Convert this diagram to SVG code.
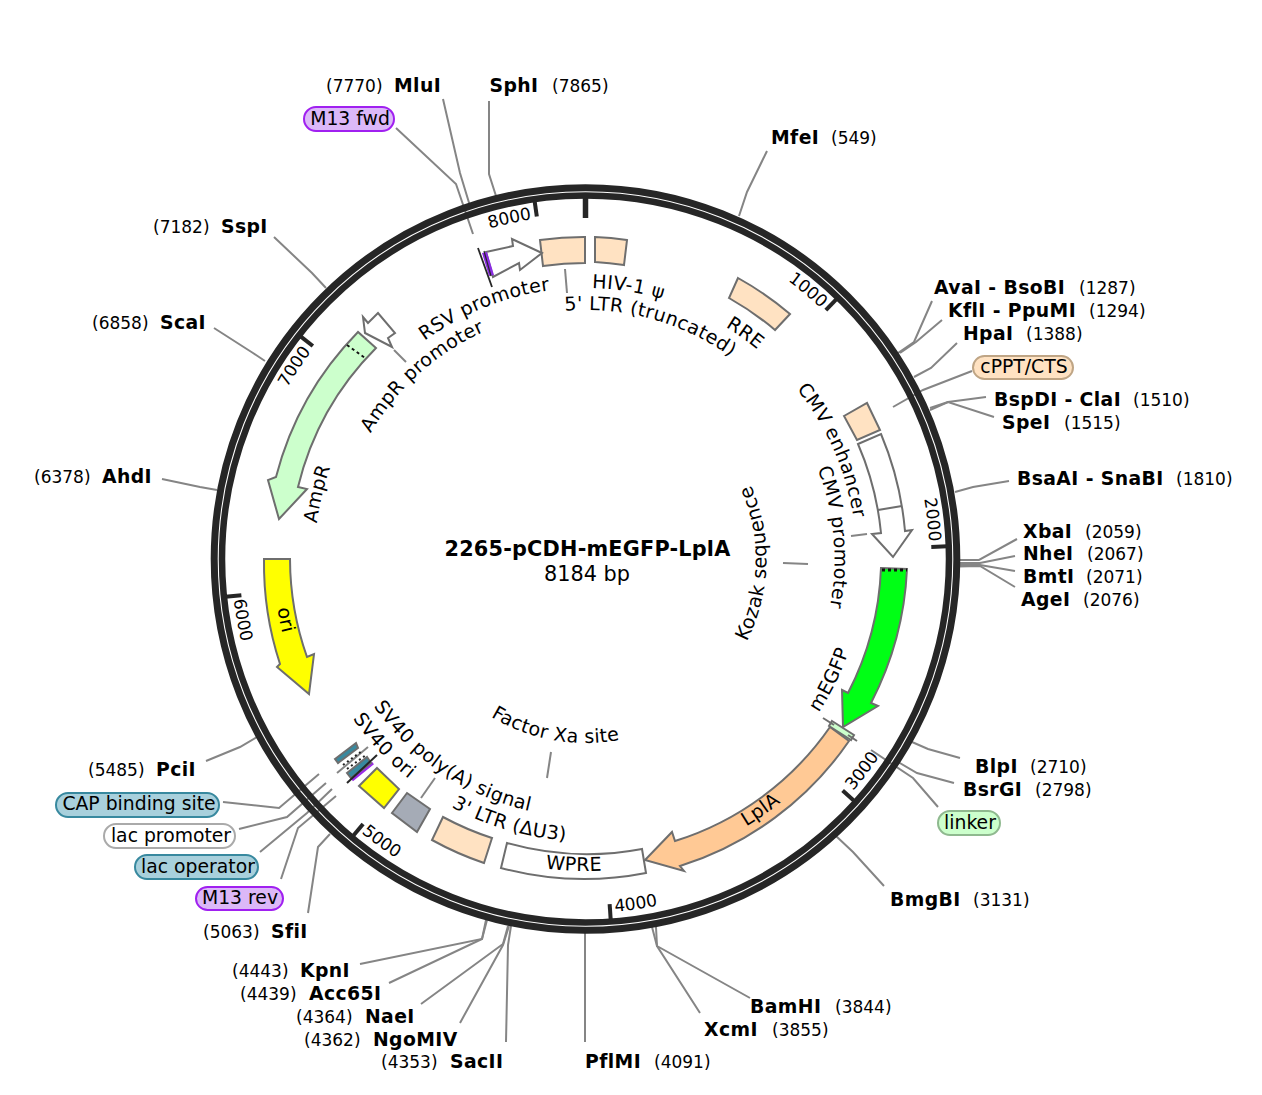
<svg xmlns="http://www.w3.org/2000/svg" width="1262" height="1095" viewBox="0 0 1262 1095">
<style>
text{font-family:"DejaVu Sans",sans-serif;fill:#000}
.e{font-weight:bold;font-size:18.8px;letter-spacing:.4px}
.n{font-size:17px}
.f{font-size:19px;text-anchor:middle;letter-spacing:.35px}
.t{font-size:17px;text-anchor:middle}
.p{font-size:18.8px;text-anchor:middle}
.l{fill:none;stroke:#858585;stroke-width:2}
.b{stroke:#6e6e6e;stroke-width:2;stroke-linejoin:miter}
.r{fill:none;stroke:#262626}
.k{stroke:#262626;stroke-width:4}
.z{stroke:#262626;stroke-width:5.500}
.ltr{fill:#ffe2c2}
</style>
<defs>
<path id="c249" d="M585.5,808A249,249 0 1 1 585.5,310A249,249 0 1 1 585.5,808"/>
<path id="c271" d="M585.5,830A271,271 0 1 1 585.5,288A271,271 0 1 1 585.5,830"/>
<path id="c344" d="M585.5,903A344,344 0 1 1 585.5,215A344,344 0 1 1 585.5,903"/>
<path id="a181" d="M585.5,378A181,181 0 1 0 585.5,740A181,181 0 1 0 585.5,378"/>
<path id="a184" d="M585.5,375A184,184 0 1 0 585.5,743A184,184 0 1 0 585.5,375"/>
<path id="a258" d="M585.5,301A258,258 0 1 0 585.5,817A258,258 0 1 0 585.5,301"/>
<path id="a279" d="M585.5,280A279,279 0 1 0 585.5,838A279,279 0 1 0 585.5,280"/>
<path id="a282" d="M585.5,277A282,282 0 1 0 585.5,841A282,282 0 1 0 585.5,277"/>
<path id="a312" d="M585.5,247A312,312 0 1 0 585.5,871A312,312 0 1 0 585.5,247"/>
<path id="a354" d="M585.5,205A354,354 0 1 0 585.5,913A354,354 0 1 0 585.5,205"/>
</defs>

<g id="connectors">
<polyline class="l" points="443,99 460,173 470,206"/>
<polyline class="l" points="396,128 456,184 473,234"/>
<polyline class="l" points="489,101 489,174 496,196"/>
<polyline class="l" points="767,151 747,192 739,216"/>
<polyline class="l" points="932,301 914,342 898,353"/>
<polyline class="l" points="942,320 916,342 900,353"/>
<polyline class="l" points="957,343 931,368 914,377"/>
<polyline class="l" points="972,371 923,390 893,407"/>
<polyline class="l" points="986,397 948,402 930,408"/>
<polyline class="l" points="994,417 948,402 930,410"/>
<polyline class="l" points="1009,481 973,487 955,492"/>
<polyline class="l" points="1017,539 979,560 958,560"/>
<polyline class="l" points="1015,556 980,563 958,563"/>
<polyline class="l" points="1015,571 980,565 958,565"/>
<polyline class="l" points="1015,587 980,566 958,566.500"/>
<polyline class="l" points="960,758 928,749 912,742"/>
<polyline class="l" points="954,783 917,773 898,762"/>
<polyline class="l" points="938,807 913,778 871,750"/>
<polyline class="l" points="884,886 853,852 836,836"/>
<polyline class="l" points="750,998 657,946 656,927"/>
<polyline class="l" points="700,1013 657,946 652,927"/>
<polyline class="l" points="585,1042 585,952 585,932"/>
<polyline class="l" points="506,1042 508,945 511,926"/>
<polyline class="l" points="460,1023 503,945 509,926"/>
<polyline class="l" points="421,1004 503,944 508,926"/>
<polyline class="l" points="389,983 482,939 487,920"/>
<polyline class="l" points="360,964 482,939 486,920"/>
<polyline class="l" points="308,913 318,847 330,834"/>
<polyline class="l" points="281,879 298,828 336,796"/>
<polyline class="l" points="260,852 307,813 332,789"/>
<polyline class="l" points="239,829 287,817 326,783"/>
<polyline class="l" points="223,802 279,808 319,774"/>
<polyline class="l" points="206,761 240,747 257,737"/>
<polyline class="l" points="162,479 200,487 217,490"/>
<polyline class="l" points="214,328 253,353 265,361"/>
<polyline class="l" points="274,237 312,273 326,288"/>
<polyline class="l" points="565,269 567,293"/>
<polyline class="l" points="394,350 406,362"/>
<polyline class="l" points="851,536 867,534"/>
<polyline class="l" points="783,563 808,564"/>
<polyline class="l" points="547,778 551,752"/>
<polyline class="l" points="435,778 421,798"/>
</g>

<g id="backbone">
<circle class="r" cx="585.5" cy="559" r="371.300" stroke-width="7"/>
<circle class="r" cx="585.500" cy="559" r="363.500" stroke-width="6.500"/>
<line class="z" x1="585.500" y1="197" x2="585.500" y2="218"/>
<g id="ticks">
<line class="k" x1="585.5" y1="197" x2="585.5" y2="213" transform="rotate(-8.09 585.5 559)"/>
<line class="k" x1="585.5" y1="197" x2="585.5" y2="213" transform="rotate(44 585.5 559)"/>
<line class="k" x1="585.5" y1="197" x2="585.5" y2="213" transform="rotate(88 585.5 559)"/>
<line class="k" x1="585.5" y1="197" x2="585.5" y2="213" transform="rotate(132 585.5 559)"/>
<line class="k" x1="585.5" y1="197" x2="585.5" y2="213" transform="rotate(176 585.5 559)"/>
<line class="k" x1="585.5" y1="197" x2="585.5" y2="213" transform="rotate(220 585.5 559)"/>
<line class="k" x1="585.5" y1="197" x2="585.5" y2="213" transform="rotate(264 585.5 559)"/>
<line class="k" x1="585.5" y1="197" x2="585.5" y2="213" transform="rotate(308 585.5 559)"/>
</g>
<text class="t"><textPath href="#c344" startOffset="46.5%">8000</textPath></text>
<text class="t"><textPath href="#c344" startOffset="61%">1000</textPath></text>
<text class="t"><textPath href="#c344" startOffset="73.2%">2000</textPath></text>
<text class="t"><textPath href="#c344" startOffset="34.3%">7000</textPath></text>
<text class="t"><textPath href="#a354" startOffset="64.6%">3000</textPath></text>
<text class="t"><textPath href="#a354" startOffset="52.3%">4000</textPath></text>
<text class="t"><textPath href="#a354" startOffset="40.05%">5000</textPath></text>
<text class="t"><textPath href="#a354" startOffset="27.8%">6000</textPath></text>
</g>

<g id="title">
<text x="587.500" y="556" text-anchor="middle" font-size="20.800" font-weight="bold" letter-spacing=".2">2265-pCDH-mEGFP-LplA</text>
<text x="587" y="581" text-anchor="middle" font-size="20.800">8184 bp</text>
</g>

<g id="ltr5"><path class="b ltr" d="M540,240A322,322 0 0 1 585,237L585,263A296,296 0 0 0 543,266Z"/><text class="f"><textPath href="#c249" startOffset="54.3%">5' LTR (truncated)</textPath></text></g>
<g id="psi"><path class="b ltr" d="M595,237A322,322 0 0 1 627,240L624,265A296,296 0 0 0 595,262Z"/><text class="f"><textPath href="#c271" startOffset="52.5%">HIV-1 ψ</textPath></text></g>
<g id="rre"><path class="b ltr" d="M738,278A322,322 0 0 1 790,314L775,330A296,296 0 0 0 729,298Z"/><text class="f"><textPath href="#c271" startOffset="59.8%">RRE</textPath></text></g>
<g id="rsv"><polygon class="b" fill="#fff" points="486,252 513,246 512,239 542,253 520,270 519,263 493,277"/>
<polygon fill="#8a2be2" points="482,253 487,252 494,275 489,276"/>
<line x1="478" y1="248" x2="492" y2="287" stroke="#262626" stroke-width="1.800"/><line x1="484" y1="251" x2="491" y2="276" stroke="#262626" stroke-width="1.200"/>
<text class="f"><textPath href="#c271" startOffset="43.9%">RSV promoter</textPath></text></g>
<g id="amprp"><polygon class="b" fill="#fff" points="363,317 368,323 378,313 395,333 388,338 392,347 365,333"/><text class="f"><textPath href="#c249" startOffset="38.4%">AmpR promoter</textPath></text></g>
<g id="ampr"><path class="b" fill="#ccffcc" d="M358,332A322,322 0 0 0 276,477L268,480L279,519L307,489L298,487A296,296 0 0 1 376,348Z"/>
<line x1="347" y1="345" x2="365" y2="358" stroke="#111" stroke-width="2" stroke-dasharray="3 3"/>
<text class="f"><textPath href="#c271" startOffset="28.8%">AmpR</textPath></text></g>
<g id="ori"><path class="b" fill="#ffff00" d="M264,559L290,559A296,296 0 0 0 307,657L314,654L309,694L277,667L280,664A322,322 0 0 1 264,559Z"/><text class="f"><textPath href="#a312" startOffset="28.2%">ori</textPath></text></g>
<g id="cmve"><polygon class="b ltr" points="844,416 867,403 880,430 857,440"/><text class="f"><textPath href="#c271" startOffset="68.4%">CMV enhancer</textPath></text></g>
<g id="cmvp"><path class="b" fill="#fff" d="M858,444L881,434A322,322 0 0 1 905,531L912,530L893,557L872,534L881,533A296,296 0 0 0 858,444Z"/><line class="b" x1="878" y1="510" x2="902" y2="506"/><text class="f"><textPath href="#c249" startOffset="73.6%">CMV promoter</textPath></text></g>
<g id="kozak"><text class="f"><textPath href="#a181" startOffset="74.6%" font-size="19.500">Kozak sequence</textPath></text></g>
<g id="megfp"><path class="b" fill="#00ff15" d="M881,568L907,569A322,322 0 0 1 871,703L878,706L843,727L842,690L848,693A296,296 0 0 0 881,568Z"/>
<line x1="882" y1="570" x2="907" y2="570" stroke="#111" stroke-width="3" stroke-dasharray="3 3"/>
<text class="f"><textPath href="#a279" startOffset="67.7%">mEGFP</textPath></text></g>
<g id="lpla"><path class="b" fill="#ffc995" d="M830,727L849,741A322,322 0 0 1 680,866L684,871L645,860L672,832L675,841A296,296 0 0 0 830,727Z"/><text class="f"><textPath href="#a312" startOffset="59.7%">LplA</textPath></text></g>
<g id="xa"><polygon class="b" fill="#ccffcc" stroke-width="1.500" points="832,721 854,735 851,740 829,726"/><line x1="823" y1="718" x2="834" y2="725" stroke="#6e6e6e" stroke-width="2"/><line x1="848" y1="735" x2="857" y2="741" stroke="#6e6e6e" stroke-width="2"/><text class="f"><textPath href="#a184" startOffset="47.2%">Factor Xa site</textPath></text></g>
<g id="wpre"><path class="b" fill="#fff" d="M507,843A296,296 0 0 0 642,849L646,873A322,322 0 0 1 501,868Z"/><text class="f"><textPath href="#a312" startOffset="49.4%">WPRE</textPath></text></g>
<g id="ltr3"><path class="b ltr" d="M443,817A296,296 0 0 0 492,838L484,863A322,322 0 0 1 432,840Z"/><text class="f"><textPath href="#a282" startOffset="45.5%">3' LTR (ΔU3)</textPath></text></g>
<g id="gray"><polygon class="b" fill="#a5abb6" points="407,793 430,809 417,832 392,813"/></g>
<g id="yellow"><polygon class="b" fill="#ffff00" points="377,768 399,789 384,808 359,786"/></g>
<g id="sv40pa"><line x1="368" y1="747" x2="337" y2="773" stroke="#858585" stroke-width="2"/>
<polygon class="b" fill="#38899f" stroke-width="1.800" points="335,759 356,743 358,748 338,763"/>
<line x1="343" y1="765" x2="362" y2="751" stroke="#222" stroke-width="2" stroke-dasharray="2 3"/>
<line x1="347" y1="769" x2="366" y2="755" stroke="#222" stroke-width="2" stroke-dasharray="2 3"/>
<text class="f"><textPath href="#a258" startOffset="40.6%">SV40 poly(A) signal</textPath></text></g>
<g id="sv40ori"><line x1="352" y1="780" x2="373" y2="763" stroke="#9a2be8" stroke-width="3"/>
<polygon class="b" fill="#38899f" stroke-width="1.800" points="347,773 367,757 371,763 351,778"/>
<line x1="347" y1="783" x2="377" y2="755" stroke="#262626" stroke-width="2"/>
<text class="f"><textPath href="#a282" startOffset="36.9%">SV40 ori</textPath></text></g>

<g id="m13fwd"><rect x="304" y="107" width="90" height="24" rx="12" fill="#dcb8f8" stroke="#a020f0" stroke-width="2"/><text class="p" x="350" y="125">M13 fwd</text></g>
<g id="cppt"><rect x="973" y="356" width="100" height="23" rx="11.500" fill="#ffe2c2" stroke="#bfa585" stroke-width="2"/><text class="p" x="1024" y="373">cPPT/CTS</text></g>
<g id="linker"><rect x="938" y="811" width="62" height="24" rx="12" fill="#ccffcc" stroke="#8fb98f" stroke-width="2"/><text class="p" x="970" y="829">linker</text></g>
<g id="cap"><rect x="56" y="793" width="163" height="24" rx="12" fill="#a8d0dc" stroke="#38899f" stroke-width="2"/><text class="p" x="139" y="810">CAP binding site</text></g>
<g id="lacp"><rect x="104" y="824" width="131" height="24" rx="12" fill="#fff" stroke="#aaaaaa" stroke-width="2"/><text class="p" x="171" y="842">lac promoter</text></g>
<g id="laco"><rect x="135" y="855" width="123" height="24" rx="12" fill="#a8d0dc" stroke="#38899f" stroke-width="2"/><text class="p" x="198" y="873">lac operator</text></g>
<g id="m13rev"><rect x="196" y="887" width="87" height="23" rx="11.500" fill="#dcb8f8" stroke="#a020f0" stroke-width="2"/><text class="p" x="240" y="904">M13 rev</text></g>

<g id="sites">
<text class="n" x="326" y="92">(7770)</text><text class="e" x="394" y="92">MluI</text>
<text class="e" x="489.500" y="92">SphI</text><text class="n" x="552" y="92">(7865)</text>
<text class="e" x="771" y="144">MfeI</text><text class="n" x="831" y="144">(549)</text>
<text class="e" x="934" y="294">AvaI - BsoBI</text><text class="n" x="1079" y="294">(1287)</text>
<text class="e" x="948" y="317">KflI - PpuMI</text><text class="n" x="1089" y="317">(1294)</text>
<text class="e" x="963" y="340">HpaI</text><text class="n" x="1026" y="340">(1388)</text>
<text class="e" x="994" y="406">BspDI - ClaI</text><text class="n" x="1133" y="406">(1510)</text>
<text class="e" x="1002" y="429">SpeI</text><text class="n" x="1064" y="429">(1515)</text>
<text class="e" x="1017" y="485">BsaAI - SnaBI</text><text class="n" x="1176" y="485">(1810)</text>
<text class="e" x="1023" y="538">XbaI</text><text class="n" x="1085" y="538">(2059)</text>
<text class="e" x="1023" y="560">NheI</text><text class="n" x="1087" y="560">(2067)</text>
<text class="e" x="1023" y="583">BmtI</text><text class="n" x="1086" y="583">(2071)</text>
<text class="e" x="1021" y="606">AgeI</text><text class="n" x="1083" y="606">(2076)</text>
<text class="e" x="975" y="773">BlpI</text><text class="n" x="1030" y="773">(2710)</text>
<text class="e" x="963" y="796">BsrGI</text><text class="n" x="1035" y="796">(2798)</text>
<text class="e" x="890" y="906">BmgBI</text><text class="n" x="973" y="906">(3131)</text>
<text class="e" x="750" y="1013">BamHI</text><text class="n" x="835" y="1013">(3844)</text>
<text class="e" x="704" y="1036">XcmI</text><text class="n" x="772" y="1036">(3855)</text>
<text class="e" x="585" y="1068">PflMI</text><text class="n" x="654" y="1068">(4091)</text>
<text class="n" x="381" y="1068">(4353)</text><text class="e" x="450" y="1068">SacII</text>
<text class="n" x="304" y="1046">(4362)</text><text class="e" x="373" y="1046">NgoMIV</text>
<text class="n" x="296" y="1023">(4364)</text><text class="e" x="365" y="1023">NaeI</text>
<text class="n" x="240" y="1000">(4439)</text><text class="e" x="309" y="1000">Acc65I</text>
<text class="n" x="232" y="977">(4443)</text><text class="e" x="300" y="977">KpnI</text>
<text class="n" x="203" y="938">(5063)</text><text class="e" x="271" y="938">SfiI</text>
<text class="n" x="88" y="776">(5485)</text><text class="e" x="156" y="776">PciI</text>
<text class="n" x="34" y="483">(6378)</text><text class="e" x="102" y="483">AhdI</text>
<text class="n" x="92" y="329">(6858)</text><text class="e" x="160" y="329">ScaI</text>
<text class="n" x="153" y="233">(7182)</text><text class="e" x="221" y="233">SspI</text>
</g>
</svg>
